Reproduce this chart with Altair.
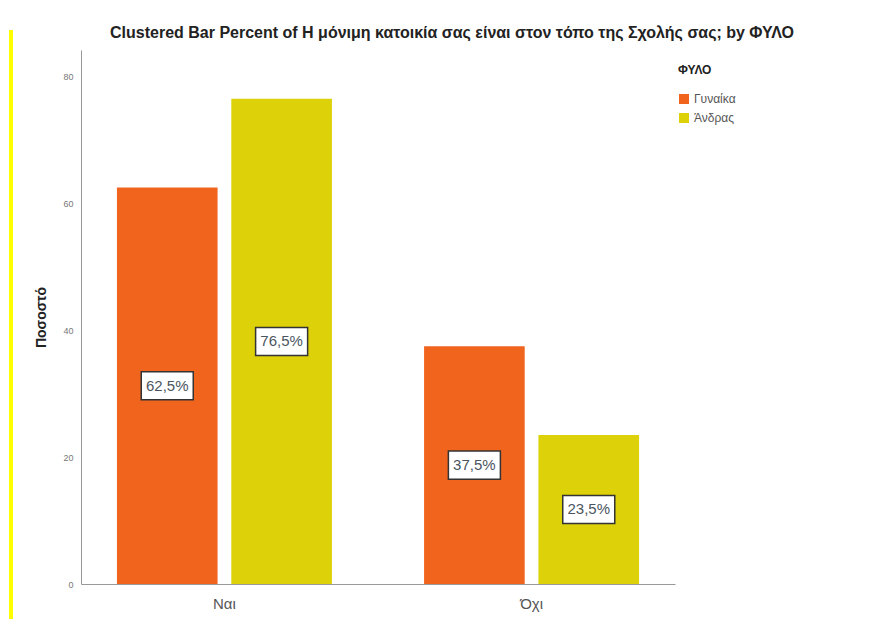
import altair as alt
import pandas as pd

categories = ["Ναι", "Όχι"]
genders = ["Γυναίκα", "Άνδρας"]
female_pct = [62.5, 37.5]
male_pct = [76.5, 23.5]
colors = ["#F0641E", "#DDD10A"]

rows = []
for i, c in enumerate(categories):
    for g, vals in zip(genders, [female_pct, male_pct]):
        v = vals[i]
        rows.append({"cat": c, "gender": g, "pct": v, "half": v / 2,
                     "label": f"{v:.1f}".replace(".", ",") + "%"})
df = pd.DataFrame(rows)

x_enc = alt.X("cat:N", sort=categories, title=None,
              scale=alt.Scale(paddingInner=0.30, paddingOuter=0.117),
              axis=alt.Axis(labelAngle=0, ticks=False, labelFontSize=15,
                            labelColor="#555555", labelPadding=12,
                            domainColor="#999999", labelFont="Liberation Sans"))
xoff = alt.XOffset("gender:N", sort=genders,
                   scale=alt.Scale(paddingInner=0.12, paddingOuter=0))

base = alt.Chart(df)

bars = base.mark_bar().encode(
    x=x_enc,
    xOffset=xoff,
    y=alt.Y("pct:Q", title="Ποσοστό",
            scale=alt.Scale(domain=[0, 84.2], nice=False),
            axis=alt.Axis(values=[0, 20, 40, 60, 80], grid=False, ticks=False,
                          labelFontSize=9, labelColor="#777777", labelPadding=8,
                          domainColor="#999999", titleFontSize=14,
                          titleFontWeight="bold", titleColor="#222222",
                          titlePadding=14, titleFont="Liberation Sans",
                          labelFont="Liberation Sans")),
    color=alt.Color("gender:N", sort=genders, title="ΦΥΛΟ",
                    scale=alt.Scale(domain=genders, range=colors),
                    legend=alt.Legend(orient="none", legendX=597, legendY=15,
                                      titleFontSize=12, titleFontWeight="bold",
                                      titleColor="#222222", labelFontSize=12,
                                      labelColor="#555555", symbolType="square",
                                      symbolSize=100, symbolStrokeWidth=0,
                                      rowPadding=7, titlePadding=16,
                                      titleFont="Liberation Sans",
                                      labelFont="Liberation Sans Narrow, Liberation Sans")),
)

boxes = base.mark_point(
    shape="M-1,-0.54H1V0.54H-1Z", filled=True, fill="white", opacity=1,
    stroke="#333333", strokeWidth=1.5, size=2704,
).encode(
    x=alt.X("cat:N", sort=categories),
    xOffset=xoff,
    y=alt.Y("half:Q"),
)

labels = base.mark_text(fontSize=15, color="#4a5560",
                        font="Liberation Sans Narrow, Liberation Sans").encode(
    x=alt.X("cat:N", sort=categories),
    xOffset=xoff,
    y=alt.Y("half:Q"),
    text="label:N",
)

yellow = alt.Chart(alt.Data(values=[{}])).mark_rule(
    color="#FFFF00", strokeWidth=4
).encode(x=alt.value(-70), y=alt.value(-20), y2=alt.value(590))

chart = alt.layer(yellow, bars, boxes, labels).properties(
    width=594, height=534,
    title=alt.TitleParams(
        "Clustered Bar Percent of Η μόνιμη κατοικία σας είναι στον τόπο της Σχολής σας; by ΦΥΛΟ",
        fontSize=16, fontWeight="bold", color="#222222", dx=74, dy=23, offset=10,
        font="Liberation Sans"),
    autosize=alt.AutoSizeParams(type="none"),
    padding={"left": 73, "top": 42, "right": 190, "bottom": 45},
).configure_view(stroke=None)

chart.save("out.html", embed_options={"renderer": "svg", "actions": False})
